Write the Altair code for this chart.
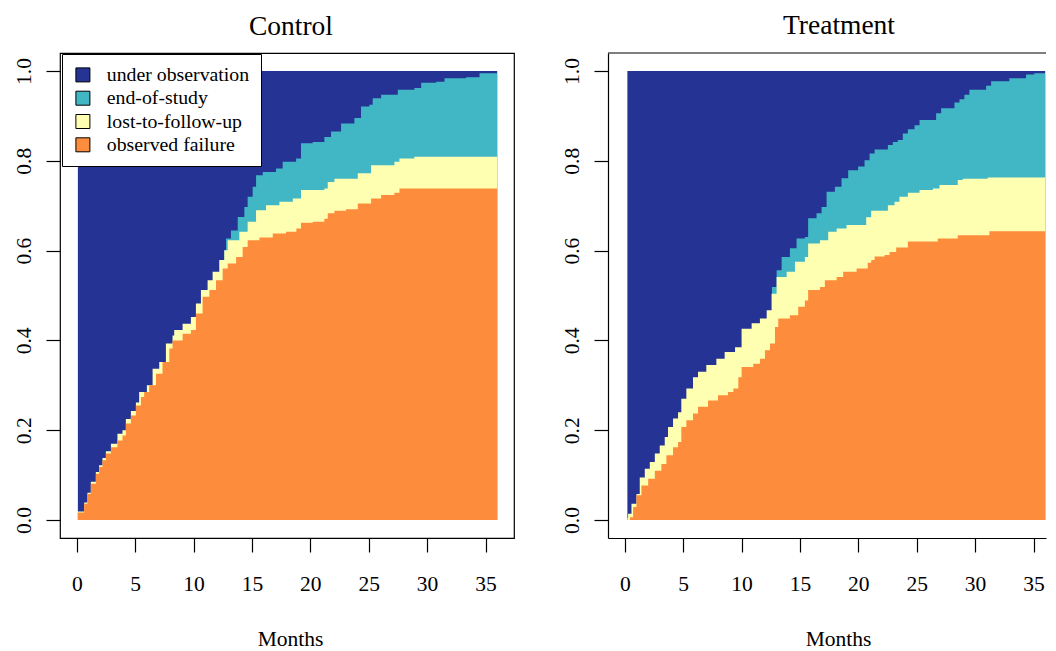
import altair as alt
import pandas as pd

# ---------------- data ----------------
status_names = ["under observation", "end-of-study", "lost-to-follow-up", "observed failure"]
status_colors = ["#253494", "#41b6c4", "#ffffb2", "#fd8d3c"]
x_ticks = [0, 5, 10, 15, 20, 25, 30, 35]
y_ticks = [0.0, 0.2, 0.4, 0.6, 0.8, 1.0]
panel_titles = ["Control", "Treatment"]
end_month = 36.0

# Control: cumulative tops of each band (step points)
ctrl_start = 0.09
ctrl_fail_t = [0.09, 0.63, 0.91, 1.2, 1.63, 1.91, 2.2, 2.49, 2.92, 3.48,
               3.91, 4.2, 4.63, 5.06, 5.49, 5.77, 6.2, 6.78, 7.34, 7.92,
               8.2, 9.06, 9.77, 10.2, 10.77, 11.35, 11.92, 12.49, 12.92, 13.64,
               14.2, 14.63, 15.64, 16.78, 17.92, 18.8, 19.2, 20.2, 21.2, 21.49,
               22.06, 23.06, 24.06, 25.2, 26.06, 27.2, 27.63, 36.0]
ctrl_fail_v = [0.017, 0.036, 0.058, 0.081, 0.103, 0.118, 0.133, 0.148, 0.162, 0.177,
               0.188, 0.215, 0.233, 0.255, 0.274, 0.285, 0.300, 0.326, 0.352, 0.382,
               0.400, 0.415, 0.423, 0.460, 0.497, 0.512, 0.534, 0.560, 0.571, 0.586,
               0.608, 0.623, 0.629, 0.638, 0.642, 0.649, 0.662, 0.664, 0.671, 0.683,
               0.689, 0.692, 0.705, 0.716, 0.724, 0.729, 0.738, 0.738]
ctrl_lost_t = [0.09, 0.63, 0.91, 1.2, 1.63, 1.91, 2.2, 2.49, 2.92, 3.48,
               3.91, 4.2, 4.63, 5.06, 5.34, 6.0, 6.49, 7.06, 7.63, 8.2,
               8.34, 9.06, 9.77, 10.2, 10.63, 11.2, 11.63, 12.2, 12.63, 12.92,
               13.92, 14.63, 15.35, 16.2, 17.35, 18.5, 19.2, 21.2, 21.49, 22.06,
               24.06, 25.2, 27.2, 27.63, 28.9, 36.0]
ctrl_lost_v = [0.019, 0.039, 0.061, 0.085, 0.107, 0.122, 0.138, 0.153, 0.170, 0.192,
               0.200, 0.225, 0.243, 0.262, 0.285, 0.300, 0.337, 0.352, 0.393, 0.411,
               0.423, 0.437, 0.452, 0.482, 0.512, 0.534, 0.553, 0.579, 0.601, 0.623,
               0.642, 0.664, 0.690, 0.701, 0.709, 0.716, 0.735, 0.738, 0.753, 0.760,
               0.772, 0.790, 0.798, 0.805, 0.809, 0.809]
ctrl_eos_t = [12.63, 12.78, 13.2, 13.78, 14.35, 14.63, 15.06, 15.35, 15.92, 17.06,
              17.63, 18.78, 19.2, 20.2, 21.2, 21.77, 22.63, 23.77, 24.34, 25.06,
              25.34, 26.06, 27.49, 28.91, 29.49, 30.77, 31.49, 33.34, 34.49, 36.0]
ctrl_eos_v = [0.601, 0.627, 0.645, 0.675, 0.697, 0.720, 0.742, 0.768, 0.775, 0.783,
              0.798, 0.805, 0.839, 0.842, 0.853, 0.865, 0.883, 0.895, 0.921, 0.925,
              0.939, 0.947, 0.958, 0.962, 0.974, 0.976, 0.984, 0.986, 0.995, 0.995]

# Treatment
trt_start = 0.22
trt_fail_t = [0.23, 0.43, 0.71, 1.0, 1.42, 2.0, 2.57, 3.13, 3.56, 4.13,
              4.56, 4.84, 5.27, 5.84, 6.27, 7.13, 7.98, 8.84, 9.29, 9.72,
              10.0, 11.0, 11.57, 12.0, 12.43, 12.86, 13.14, 14.14, 14.85, 15.42,
              15.7, 16.71, 17.13, 18.14, 18.7, 19.85, 20.8, 21.1, 21.39, 22.24,
              22.67, 23.24, 24.24, 26.8, 28.51, 31.22, 36.0]
trt_fail_v = [0.0, 0.006, 0.029, 0.055, 0.077, 0.092, 0.110, 0.125, 0.144, 0.162,
              0.174, 0.207, 0.222, 0.237, 0.252, 0.266, 0.278, 0.285, 0.293, 0.318,
              0.341, 0.348, 0.359, 0.378, 0.393, 0.430, 0.449, 0.456, 0.475, 0.489,
              0.512, 0.519, 0.534, 0.541, 0.553, 0.560, 0.573, 0.579, 0.587, 0.590,
              0.597, 0.607, 0.620, 0.627, 0.634, 0.643, 0.643]
trt_lost_t = [0.23, 0.28, 0.57, 1.0, 1.28, 1.71, 2.14, 2.57, 2.99, 3.42,
              3.7, 4.13, 4.56, 4.84, 5.27, 5.84, 6.27, 6.98, 7.84, 8.55,
              9.44, 10.0, 10.86, 11.57, 12.15, 12.57, 13.0, 13.86, 14.57, 15.42,
              15.7, 16.71, 17.42, 18.14, 18.99, 20.67, 21.1, 22.53, 23.1, 23.52,
              24.24, 25.24, 26.38, 26.95, 28.51, 28.94, 31.08, 36.0]
trt_lost_v = [0.005, 0.014, 0.036, 0.058, 0.095, 0.114, 0.129, 0.148, 0.166, 0.185,
              0.207, 0.226, 0.240, 0.270, 0.293, 0.318, 0.330, 0.345, 0.359, 0.374,
              0.385, 0.426, 0.438, 0.449, 0.467, 0.504, 0.541, 0.553, 0.575, 0.586,
              0.616, 0.623, 0.642, 0.649, 0.657, 0.674, 0.689, 0.701, 0.709, 0.720,
              0.729, 0.735, 0.738, 0.746, 0.757, 0.760, 0.763, 0.763]
trt_eos_t = [12.6, 13.0, 13.43, 14.14, 14.71, 15.42, 15.7, 16.42, 16.85, 17.28,
             17.99, 18.56, 19.13, 19.98, 20.53, 20.96, 21.39, 22.53, 22.95, 23.38,
             23.81, 24.24, 24.81, 25.24, 26.66, 27.09, 28.23, 28.66, 29.08, 29.51,
             30.94, 31.37, 32.93, 34.36, 35.07, 36.0]
trt_eos_v = [0.519, 0.556, 0.586, 0.605, 0.627, 0.630, 0.672, 0.683, 0.697, 0.731,
             0.742, 0.761, 0.779, 0.787, 0.801, 0.816, 0.825, 0.835, 0.842, 0.846,
             0.861, 0.870, 0.879, 0.891, 0.906, 0.917, 0.930, 0.937, 0.947, 0.958,
             0.967, 0.977, 0.984, 0.992, 0.995, 0.995]

FONT = "Liberation Serif"
PX_PER_MONTH = 454 / 38.88


def panel_frame(start, fail_t, fail_v, lost_t, lost_v, eos_t, eos_v):
    parts = [
        pd.DataFrame({"status": status_names[0], "month": [start, end_month], "prop": [1.0, 1.0]}),
        pd.DataFrame({"status": status_names[1], "month": eos_t, "prop": eos_v}),
        pd.DataFrame({"status": status_names[2], "month": lost_t, "prop": lost_v}),
        pd.DataFrame({"status": status_names[3], "month": fail_t, "prop": fail_v}),
    ]
    return pd.concat(parts, ignore_index=True)


def make_panel(df, title, width, dx, legend, framed):
    xmax = -1.44 + width / PX_PER_MONTH
    x = alt.X(
        "month:Q",
        scale=alt.Scale(domain=[-1.44, xmax], nice=False, zero=False),
        axis=alt.Axis(values=x_ticks, title="Months", titleX=230, titleY=107,
                      titleBaseline="alphabetic", titleAlign="center",
                      labelPadding=38, labelBaseline="alphabetic",
                      labelFlush=False, labelOverlap=False,
                      domain=not framed, domainColor="black", domainWidth=1.2),
    )
    y = alt.Y(
        "prop:Q",
        stack=None,
        scale=alt.Scale(domain=[-0.04, 1.04], nice=False, zero=False),
        axis=alt.Axis(values=y_ticks, format=".1f", title=None,
                      labelAngle=270, labelAlign="center", labelBaseline="alphabetic",
                      labelPadding=16, labelOverlap=False, labelFlush=False,
                      domain=not framed, domainColor="black", domainWidth=1.2),
    )
    color = alt.Color("status:N",
                      scale=alt.Scale(domain=status_names, range=status_colors),
                      legend=legend)
    layers = []
    for name in status_names:
        layers.append(
            alt.Chart()
            .transform_filter(alt.datum.status == name)
            .mark_area(interpolate="step-after", opacity=1)
            .encode(x=x, y=y, y2=alt.datum(0), color=color)
        )
    if framed:
        view = alt.ViewBackground(stroke="black", strokeWidth=1.2)
    else:
        # right-hand frame is cut off by the page edge in the reference: draw top edge only
        layers.append(
            alt.Chart(pd.DataFrame({"edge": ["top"]}))
            .mark_rule(color="black", strokeWidth=1.2)
            .encode(x=alt.value(0), x2=alt.value(width), y=alt.value(0))
        )
        view = alt.ViewBackground(strokeOpacity=0)
    return alt.layer(*layers, data=df).properties(
        width=width, height=485,
        title=alt.TitleParams(text=title, font=FONT, fontSize=27.5, fontWeight="normal",
                              color="black", baseline="alphabetic", offset=-9,
                              anchor="middle", frame="group", dx=dx),
        view=view,
    )


legend = alt.Legend(orient="none", legendX=2, legendY=1, title=None,
                    symbolType="square", symbolSize=196, symbolStrokeColor="black",
                    symbolStrokeWidth=1, symbolOpacity=1,
                    labelFont=FONT, labelFontSize=19.8, labelColor="black",
                    labelOffset=14, labelLimit=400, rowPadding=2.3, padding=11,
                    strokeColor="black", fillColor="white")

ctrl_df = panel_frame(ctrl_start, ctrl_fail_t, ctrl_fail_v, ctrl_lost_t, ctrl_lost_v,
                      ctrl_eos_t, ctrl_eos_v)
trt_df = panel_frame(trt_start, trt_fail_t, trt_fail_v, trt_lost_t, trt_lost_v,
                     trt_eos_t, trt_eos_v)

left = make_panel(ctrl_df, panel_titles[0], 454, 4, legend, True)
right = make_panel(trt_df, panel_titles[1], 438, 12, None, False)

chart = (
    alt.hconcat(left, right, spacing=94, bounds="flush")
    .resolve_scale(color="independent")
    .properties(padding={"left": 4, "top": 3, "right": 0, "bottom": 0}, background="white")
    .configure_axis(labelFont=FONT, labelFontSize=21.5, labelColor="black",
                    titleFont=FONT, titleFontSize=21.5, titleColor="black",
                    titleFontWeight="normal", tickColor="black", tickSize=14,
                    tickWidth=1.2, grid=False)
)

chart.save("out.html", embed_options={"renderer": "svg", "actions": False})
